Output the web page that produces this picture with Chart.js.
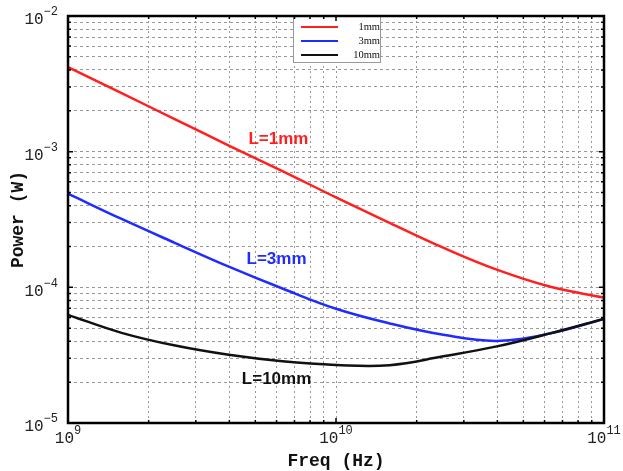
<!DOCTYPE html>
<html>
<head>
<meta charset="utf-8">
<title>Power vs frequency</title>
<script src="https://cdn.jsdelivr.net/npm/chart.js@4.4.1/dist/chart.umd.min.js"></script>
<style>
  html, body { margin: 0; padding: 0; background: #fff; }
  #wrap { width: 623px; height: 471px; }
</style>
</head>
<body>
<div id="wrap"><canvas id="powerChart" width="623" height="471"></canvas></div>
<script>
// frequency samples (Hz), five per decade, shared by all three curves
const freqs = [1e9, 1.585e9, 2.512e9, 3.981e9, 6.31e9, 1e10, 1.585e10, 2.512e10, 3.981e10, 6.31e10, 1e11];

// power (W) for each gap length
const power1mm  = [4.2e-3, 2.70e-3, 1.73e-3, 1.11e-3, 7.2e-4, 4.6e-4, 2.99e-4, 1.96e-4, 1.35e-4, 1.01e-4, 8.4e-5];
const power3mm  = [4.9e-4, 3.19e-4, 2.12e-4, 1.42e-4, 9.8e-5, 6.95e-5, 5.42e-5, 4.47e-5, 4.03e-5, 4.58e-5, 5.85e-5];
const power10mm = [6.27e-5, 4.62e-5, 3.72e-5, 3.18e-5, 2.85e-5, 2.68e-5, 2.67e-5, 3.10e-5, 3.67e-5, 4.58e-5, 5.85e-5];

const seriesLabels = ['1mm', '3mm', '10mm'];
const seriesColors = ['#ff1f1f', '#1f2bff', '#111111'];

// decade exponents used for the axis labels
const xDecades = [9, 10, 11];
const yDecades = [-2, -3, -4, -5];

// curve annotations, placed in data coordinates
const noteText  = ['L=1mm', 'L=3mm', 'L=10mm'];
const noteFreq  = [6.1e9, 6.0e9, 6.0e9];
const notePower = [1.24e-3, 1.6e-4, 2.1e-5];

const seriesData = [power1mm, power3mm, power10mm];

// 1..9 x 10^n tick list between two decades
function logTicks(lo, hi) {
  const out = [];
  for (let e = lo; e < hi; e++) {
    for (let m = 1; m <= 9; m++) out.push({ value: m * Math.pow(10, e) });
  }
  out.push({ value: Math.pow(10, hi) });
  return out;
}

function isDecade(v) {
  const l = Math.log10(v);
  return Math.abs(l - Math.round(l)) < 1e-6;
}

const MONO = '"Liberation Mono", "DejaVu Sans Mono", monospace';

function drawPow(ctx, px, py, exp, align) {
  const base = '10';
  const sup = exp < 0 ? '\u2212' + Math.abs(exp) : String(exp);
  ctx.font = '16px ' + MONO;
  const wb = ctx.measureText(base).width;
  ctx.font = '12px ' + MONO;
  const ws = ctx.measureText(sup).width;
  let left;
  if (align === 'right') left = px - wb - ws;
  else left = px - (wb + ws) / 2;
  ctx.textAlign = 'left';
  ctx.textBaseline = 'middle';
  ctx.font = '16px ' + MONO;
  ctx.fillText(base, left, py);
  ctx.font = '12px ' + MONO;
  ctx.fillText(sup, left + wb, py - 8);
}

const framePlugin = {
  id: 'frame',
  afterDraw(chart) {
    const { ctx, chartArea: a, scales } = chart;
    const x = scales.x, y = scales.y;
    ctx.save();

    // curve annotations
    ctx.font = 'bold 17px "Liberation Sans", Arial, sans-serif';
    ctx.textAlign = 'center';
    ctx.textBaseline = 'middle';
    noteText.forEach((t, i) => {
      ctx.fillStyle = seriesColors[i];
      ctx.fillText(t, x.getPixelForValue(noteFreq[i]), y.getPixelForValue(notePower[i]));
    });

    // legend box
    const lx = 293, ly = a.top, lw = 87, lh = 46;
    ctx.fillStyle = '#fff';
    ctx.fillRect(lx, ly, lw, lh);
    ctx.strokeStyle = '#999';
    ctx.lineWidth = 1;
    ctx.strokeRect(lx + 0.5, ly + 0.5, lw, lh);
    ctx.font = '10.5px "Liberation Serif", "Times New Roman", serif';
    ctx.textAlign = 'right';
    ctx.textBaseline = 'middle';
    seriesLabels.forEach((lab, i) => {
      const yy = ly + 11 + i * 14;
      ctx.strokeStyle = seriesColors[i];
      ctx.lineWidth = 2;
      ctx.beginPath();
      ctx.moveTo(lx + 8, yy);
      ctx.lineTo(lx + 45, yy);
      ctx.stroke();
      ctx.fillStyle = '#111';
      ctx.fillText(lab, lx + lw, yy);
    });

    // inner tick marks on all four sides
    ctx.strokeStyle = '#000';
    ctx.lineWidth = 1.5;
    ctx.beginPath();
    x.ticks.forEach(t => {
      const px = x.getPixelForValue(t.value);
      const len = isDecade(t.value) ? 5 : 3;
      ctx.moveTo(px, a.bottom); ctx.lineTo(px, a.bottom - len);
      ctx.moveTo(px, a.top); ctx.lineTo(px, a.top + len);
    });
    y.ticks.forEach(t => {
      const py = y.getPixelForValue(t.value);
      const len = isDecade(t.value) ? 5 : 3;
      ctx.moveTo(a.left, py); ctx.lineTo(a.left + len, py);
      ctx.moveTo(a.right, py); ctx.lineTo(a.right - len, py);
    });
    ctx.stroke();

    // plot frame
    ctx.lineWidth = 2.5;
    ctx.strokeRect(a.left, a.top, a.right - a.left, a.bottom - a.top);

    // decade labels
    ctx.fillStyle = '#222';
    yDecades.forEach(e => drawPow(ctx, a.left - 10, y.getPixelForValue(Math.pow(10, e)) + 4, e, 'right'));
    xDecades.forEach(e => drawPow(ctx, x.getPixelForValue(Math.pow(10, e)), a.bottom + 16, e, 'center'));

    // axis titles
    ctx.fillStyle = '#111';
    ctx.font = 'bold 18px ' + MONO;
    ctx.textAlign = 'center';
    ctx.textBaseline = 'middle';
    ctx.fillText('Freq (Hz)', (a.left + a.right) / 2, 461);
    ctx.translate(18, (a.top + a.bottom) / 2);
    ctx.rotate(-Math.PI / 2);
    ctx.fillText('Power (W)', 0, 0);

    ctx.restore();
  }
};

const gridStyle = { color: '#999999', lineWidth: 1, drawTicks: false };

new Chart(document.getElementById('powerChart'), {
  type: 'line',
  data: {
    datasets: seriesData.map((vals, i) => ({
      label: seriesLabels[i],
      data: freqs.map((f, j) => ({ x: f, y: vals[j] })),
      borderColor: seriesColors[i],
      borderWidth: 2.5,
      pointRadius: 0,
      fill: false,
      tension: 0.4,
      order: 2 - i
    }))
  },
  options: {
    responsive: false,
    animation: false,
    layout: { padding: { left: 68, top: 16, right: 19, bottom: 48 } },
    plugins: { legend: { display: false }, tooltip: { enabled: false } },
    scales: {
      x: {
        type: 'logarithmic',
        min: 1e9,
        max: 1e11,
        afterBuildTicks: s => { s.ticks = logTicks(9, 11); },
        ticks: { display: false },
        grid: gridStyle,
        border: { display: false, dash: [2, 3] }
      },
      y: {
        type: 'logarithmic',
        min: 1e-5,
        max: 1e-2,
        afterBuildTicks: s => { s.ticks = logTicks(-5, -2); },
        ticks: { display: false },
        grid: gridStyle,
        border: { display: false, dash: [3, 3] }
      }
    }
  },
  plugins: [framePlugin]
});
</script>
</body>
</html>
